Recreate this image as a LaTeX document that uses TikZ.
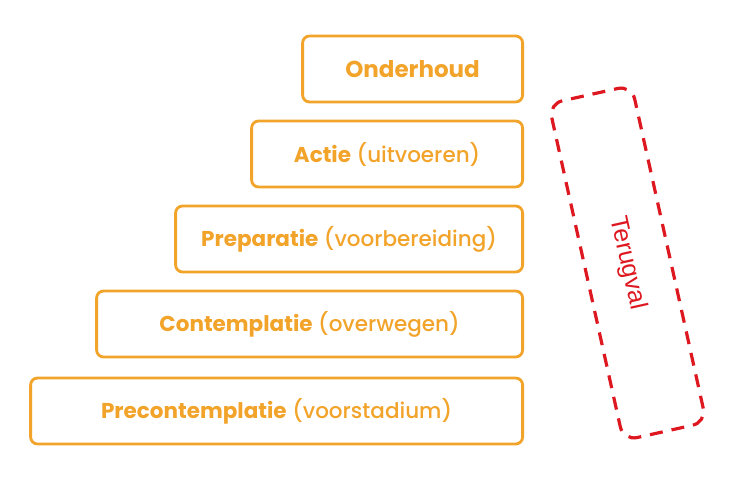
\documentclass[tikz,border=0pt]{standalone}
\usepackage{fontspec}
\setmainfont{Poppins}[UprightFont={* Medium}, BoldFont={* Bold}]
\newfontfamily\relapsefont{Liberation Sans}
\definecolor{stageorange}{RGB}{242,163,42}
\definecolor{relapsered}{RGB}{222,24,32}

\begin{document}
\begin{tikzpicture}[x=1pt,y=1pt,
	stage/.style={draw=stageorange, line width=2.8pt, rounded corners=7pt, anchor=east,
		minimum height=66pt, text=stageorange, font=\fontsize{21.5}{24}\selectfont},
	relapse/.style={draw=relapsered, line width=3.2pt, rounded corners=14pt,
		dash pattern=on 13pt off 9pt, text=relapsered, font=\relapsefont\fontsize{25}{28}\selectfont}]
\useasboundingbox (0,0) rectangle (751,477);
\node[stage, minimum width=220pt, font=\fontsize{23}{26}\selectfont] (onderhoud) at (524,408) {\textbf{Onderhoud}};
\node[stage, minimum width=271pt] (actie) at (524,323) {\textbf{Actie} (uitvoeren)};
\node[stage, minimum width=347pt] (preparatie) at (524,238) {\textbf{Preparatie} (voorbereiding)};
\node[stage, minimum width=426pt] (contemplatie) at (524,153) {\textbf{Contemplatie} (overwegen)};
\node[stage, minimum width=492pt] (precontemplatie) at (524,66) {\textbf{Precontemplatie} (voorstadium)};
%\draw[red] (onderhoud.east) -- (precontemplatie.east);
\node[relapse, rotate=-77.5, minimum width=345pt, minimum height=85pt] (terugval) at (627.5,214) {Terugval};
\end{tikzpicture}
\end{document}
